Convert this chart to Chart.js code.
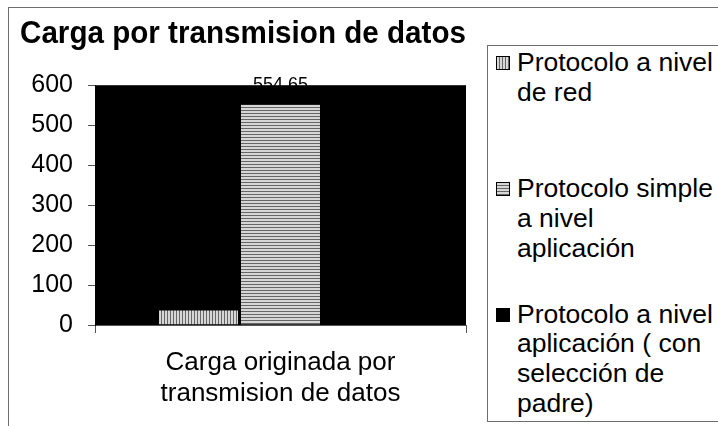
<!DOCTYPE html>
<html>
<head>
<meta charset="utf-8">
<script src="https://cdn.jsdelivr.net/npm/chart.js@4.4.0/dist/chart.umd.min.js"></script>
<style>
  body { margin: 0; background: #fff; font-family: "Liberation Sans", Arial, sans-serif; }
  #wrap { position: relative; width: 718px; height: 426px; overflow: hidden; }
  #frame { position: absolute; left: 8px; top: 7px; width: 800px; height: 500px; border: 1px solid #6e6e6e; }
  #myChart { position: absolute; left: 0; top: 0; }
  #legend { position: absolute; left: 487px; top: 45px; width: 300px; height: 375px; border: 1px solid #6e6e6e; background: #fff; }
  .item { position: relative; padding-left: 29px; font-size: 26.5px; line-height: 29.7px; color: #000; }
  .sw { position: absolute; left: 8px; top: 8px; width: 12px; height: 12px; border: 1px solid #000; }
</style>
</head>
<body>
<div id="wrap">
  <div id="frame"></div>
  <canvas id="myChart" width="718" height="426"></canvas>
  <div id="legend"></div>
</div>
<script>
// data
var categories = [['Carga originada por', 'transmision de datos']]
var seriesNames = [
    ['Protocolo a nivel', 'de red'],
    ['Protocolo simple', 'a nivel', 'aplicación'],
    ['Protocolo a nivel', 'aplicación ( con', 'selección de', 'padre)']
]
var redValues = [40]
var simpleValues = [554.65]
var padreValues = [30]
var yTicks = [0, 100, 200, 300, 400, 500, 600]

// stripe fills like the old excel patterns
function stripes(vertical) {
    var c = document.createElement('canvas')
    c.width = 3; c.height = 3
    var g = c.getContext('2d')
    g.fillStyle = '#666'
    g.fillRect(0, 0, 3, 3)
    g.fillStyle = '#d6d6d6'
    if (vertical) g.fillRect(0, 0, 2, 3)
    else g.fillRect(0, 0, 3, 2)
    return document.getElementById('myChart').getContext('2d').createPattern(c, 'repeat')
}

var fills = [stripes(true), stripes(false), '#000']
var cssFills = [
    'repeating-linear-gradient(90deg, #d6d6d6 0 2px, #666 2px 3px)',
    'repeating-linear-gradient(180deg, #d6d6d6 0 2px, #666 2px 3px)',
    '#000'
]

// black plot area + the value label that sits half hidden under it
var plotBack = {
    id: 'plotBack',
    beforeDatasetsDraw: function (chart) {
        var ctx = chart.ctx, a = chart.chartArea
        ctx.save()
        var bar = chart.getDatasetMeta(1).data[0]
        ctx.font = '18px "Liberation Sans", Arial'
        ctx.fillStyle = '#000'
        ctx.textAlign = 'center'
        ctx.textBaseline = 'middle'
        ctx.fillText(String(simpleValues[0]), bar.x, a.top)
        ctx.fillRect(a.left, a.top, a.right - a.left, a.bottom - a.top)
        ctx.restore()
    }
}

var values = [redValues, simpleValues, padreValues]

chart = new Chart('myChart', {
    type: 'bar',
    data: {
        labels: categories,
        datasets: values.map(function (v, i) {
            return {
                label: seriesNames[i].join(' '),
                data: v,
                backgroundColor: fills[i],
                borderColor: '#000',
                borderWidth: 1.5,
                categoryPercentage: 0.663,
                barPercentage: 1
            }
        })
    },
    options: {
        responsive: false,
        animation: false,
        layout: { padding: { left: 20, right: 252, top: 0, bottom: 0 } },
        plugins: {
            legend: { display: false },
            tooltip: { enabled: false },
            title: {
                display: true,
                text: 'Carga por transmision de datos',
                align: 'start',
                color: '#000',
                font: { family: '"Liberation Sans", Arial', size: 31, weight: 'bold', lineHeight: 1.2 },
                padding: { top: 16, bottom: 32 }
            }
        },
        scales: {
            x: {
                grid: { display: true, drawOnChartArea: false, tickLength: 8, color: '#555', offset: true },
                border: { color: '#555' },
                ticks: { color: '#000', padding: 14, font: { family: '"Liberation Sans", Arial', size: 26, lineHeight: 1.19 } },
                afterFit: function (s) { s.height = 101 }
            },
            y: {
                min: 0, max: 600,
                afterBuildTicks: function (s) { s.ticks = yTicks.map(function (v) { return { value: v } }) },
                grid: { display: true, drawOnChartArea: false, tickLength: 7, color: '#555' },
                border: { color: '#000' },
                ticks: { color: '#000', padding: 15, font: { family: '"Liberation Sans", Arial', size: 25 } },
                afterFit: function (s) { s.width = 75 }
            }
        }
    },
    plugins: [plotBack]
})

// legend box
var gaps = [2, 67, 36]
var lg = document.getElementById('legend')
seriesNames.forEach(function (lines, i) {
    var d = document.createElement('div')
    d.className = 'item'
    d.style.marginTop = gaps[i] + 'px'
    d.innerHTML = '<span class="sw" style="background:' + cssFills[i] + '"></span>' + lines.join('<br>')
    lg.appendChild(d)
})
</script>
</body>
</html>
